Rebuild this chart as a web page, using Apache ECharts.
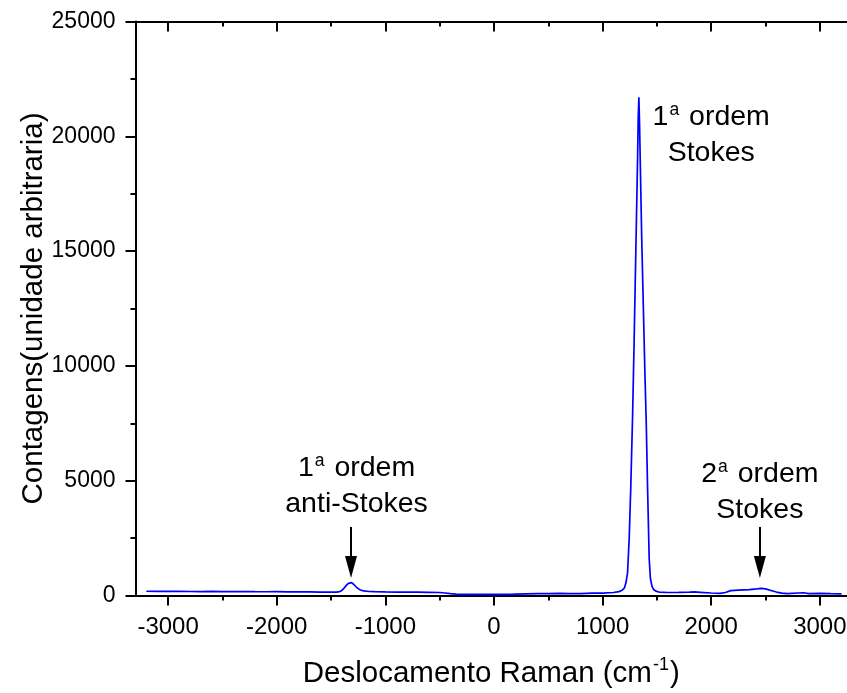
<!DOCTYPE html>
<html>
<head>
<meta charset="utf-8">
<script src="https://cdn.jsdelivr.net/npm/echarts@6/dist/echarts.min.js"></script>
<style>
html,body{margin:0;padding:0;background:#ffffff;}
#chart{width:847px;height:693px;}
</style>
</head>
<body>
<div id="chart"></div>
<script>
// Raman shift (cm^-1)
const ramanShift = [
  -3200,-3100,-3000,-2900,-2800,-2700,-2600,-2500,-2400,-2300,-2200,-2100,-2000,-1900,-1800,-1700,-1600,-1500,
  -1450,-1420,-1400,-1380,-1360,-1340,-1325,-1310,-1290,-1270,-1250,-1230,-1200,-1150,-1100,-1000,-900,-800,-700,
  -600,-500,-450,-400,-350,-300,-250,-200,-100,0,100,150,200,300,400,500,600,700,800,900,1000,1100,1150,1180,1200,
  1215,1230,1245,1260,1276,1290,1300,1312,1322,1328,1334,1340,1348,1360,1375,1390,1402,1415,1429,1440,1455,1470,
  1490,1520,1600,1700,1800,1850,1900,2000,2080,2130,2180,2250,2350,2420,2463,2500,2550,2600,2650,2700,2800,2850,
  2900,3000,3100,3200
];
// Counts (arbitrary units)
const counts = [
  185,180,178,182,175,172,176,170,168,172,165,163,166,160,158,155,150,148,
  150,170,220,320,440,530,575,560,480,380,300,240,200,175,165,155,150,148,150,
  140,130,110,80,60,50,45,50,50,52,55,45,60,70,80,85,95,80,85,100,105,130,170,230,320,
  550,1000,2500,4800,7800,11000,13500,16500,19000,20800,21700,20600,18600,15600,12600,9600,7500,4500,1600,750,400,260,
  190,150,130,135,145,155,140,110,95,130,210,235,255,285,313,290,220,150,100,80,110,120,
  85,90,80,75
];
const xMajorTicks = [-3000,-2000,-1000,0,1000,2000,3000];
const xMinorTicks = [-2500,-1500,-500,500,1500,2500];
const annotationTexts = [
  '{t|1}{s|a}{t| ordem}\n{t|Stokes}',
  '{t|1}{s|a}{t| ordem}\n{t|anti-Stokes}',
  '{t|2}{s|a}{t| ordem}\n{t|Stokes}'
];
const annotationAnchors = [[2000, 20050], [-1265, 4780], [2448, 4520]];
const arrowShifts = [-1316, 2448];

const chart = echarts.init(document.getElementById('chart'), null, {renderer: 'canvas'});
const FONT = 'Liberation Sans, Arial, sans-serif';
const XMIN = -3300, XMAX = 3250;
const plain = v => String(v);

function xAxisDef(position, ticks, len, inside, showLine, showLabel) {
  return {
    type: 'value', min: XMIN, max: XMAX, position: position, gridIndex: 0,
    axisLine: {show: showLine, onZero: false, lineStyle: {color: '#000', width: 2}},
    axisTick: {show: true, customValues: ticks, length: len, inside: inside, lineStyle: {color: '#000', width: 2}},
    axisLabel: {show: showLabel, customValues: ticks, formatter: plain, fontFamily: FONT, fontSize: 24, color: '#000', margin: 20},
    splitLine: {show: false}
  };
}

const xAxes = [
  xAxisDef('bottom', xMajorTicks, 10, false, true, true),
  xAxisDef('bottom', xMinorTicks, 5, false, false, false),
  xAxisDef('top', xMajorTicks, 10, true, true, false),
  xAxisDef('top', xMinorTicks, 5, true, false, false)
];
xAxes[0].name = '{t|Deslocamento Raman (cm}{s|-1}{t|)}';
xAxes[0].nameLocation = 'middle';
xAxes[0].nameGap = 61;
xAxes[0].nameTextStyle = {
  rich: {
    t: {fontFamily: FONT, fontSize: 29.5, color: '#000', lineHeight: 34},
    s: {fontFamily: FONT, fontSize: 18, color: '#000', verticalAlign: 'top', lineHeight: 18, padding: [0, 1, 0, 1]}
  }
};

const richAnn = {
  t: {fontFamily: FONT, fontSize: 28.5, color: '#000', lineHeight: 36},
  s: {fontFamily: FONT, fontSize: 17.5, color: '#000', verticalAlign: 'top', lineHeight: 17.5, padding: [2, 2, 0, 1]}
};

const option = {
  animation: false,
  backgroundColor: '#ffffff',
  grid: {left: 135.5, right: 0, top: 21.5, bottom: 97.5, containLabel: false, outerBoundsMode: 'none'},
  xAxis: xAxes,
  yAxis: [{
    type: 'value', min: 0, max: 25000, interval: 5000, position: 'left',
    axisLine: {show: true, onZero: false, lineStyle: {color: '#000', width: 2}},
    axisTick: {show: true, length: 10, inside: false, lineStyle: {color: '#000', width: 2}},
    minorTick: {show: true, splitNumber: 2, length: 5, lineStyle: {color: '#000', width: 2}},
    axisLabel: {formatter: plain, fontFamily: FONT, fontSize: 23, color: '#000', margin: 20},
    splitLine: {show: false},
    minorSplitLine: {show: false},
    name: 'Contagens(unidade arbitraria)',
    nameLocation: 'middle',
    nameGap: 87,
    nameMoveOverlap: false,
    nameTextStyle: {fontFamily: FONT, fontSize: 29.5, color: '#000'}
  }],
  series: [{
    type: 'line',
    xAxisIndex: 0, yAxisIndex: 0,
    data: ramanShift.map((x, i) => [x, counts[i]]),
    showSymbol: false, symbol: 'none',
    lineStyle: {color: '#0000ff', width: 1.7},
    itemStyle: {color: '#0000ff'},
    smooth: false,
    silent: true,
    markPoint: {
      silent: true,
      symbol: 'circle', symbolSize: 1,
      itemStyle: {color: 'rgba(0,0,0,0)'},
      label: {show: true, position: 'inside', align: 'center', verticalAlign: 'middle', rich: richAnn},
      data: annotationAnchors.map((c, i) => ({coord: c, label: {formatter: annotationTexts[i]}}))
    },
    markLine: {
      silent: true,
      symbol: ['none', 'triangle'],
      symbolSize: [12, 22],
      label: {show: false},
      lineStyle: {color: '#000', width: 2, type: 'solid'},
      data: arrowShifts.map(x => [{coord: [x, 2983]}, {coord: [x, 1240]}])
    }
  }]
};
chart.setOption(option);
</script>
</body>
</html>
